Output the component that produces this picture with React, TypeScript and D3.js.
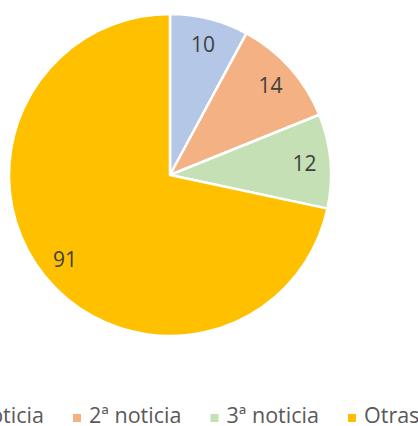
import React from "react";
import * as d3 from "d3";

const categories = ["1ª noticia", "2ª noticia", "3ª noticia", "Otras"];
const values = [10, 14, 12, 91];
const colors = ["#B4C7E7", "#F4B183", "#C5E0B4", "#FFC000"];

const W = 418;
const H = 426;
const cx = 170;
const cy = 175;
const R = 161;
const labelR = 135;
const FONT = "'Open Sans', sans-serif";

export default function App() {
  const pie = d3.pie<number>().sort(null).value((d) => d)(values);
  const arc = d3.arc<d3.PieArcDatum<number>>().innerRadius(0).outerRadius(R);
  const labelArc = d3.arc<d3.PieArcDatum<number>>().innerRadius(labelR).outerRadius(labelR);
  const legendX = d3.scaleLinear().domain([0, 1]).range([-64.5, 73]);
  return (
    <svg width={W} height={H} style={{ position: "absolute", left: 0, top: 0, background: "#fff" }}>
      <g transform={`translate(${cx},${cy})`}>
        {pie.map((p, i) => (
          <path key={i} d={arc(p) || ""} fill={colors[i]} stroke="#fff" strokeWidth={2.5} strokeLinejoin="round" />
        ))}
        {pie.map((p, i) => {
          const [x, y] = labelArc.centroid(p);
          return (
            <text key={i} x={x} y={y} dy="0.36em" textAnchor="middle" fontFamily={FONT} fontSize={21} fill="#404040">
              {values[i]}
            </text>
          );
        })}
      </g>
      <g>
        {categories.map((c, i) => (
          <g key={c} transform={`translate(${legendX(i)},0)`}>
            <rect x={0} y={414} width={8} height={8} fill={colors[i]} />
            <text x={16} y={423} fontFamily={FONT} fontSize={21.5} fill="#595959">
              {c}
            </text>
          </g>
        ))}
      </g>
    </svg>
  );
}
